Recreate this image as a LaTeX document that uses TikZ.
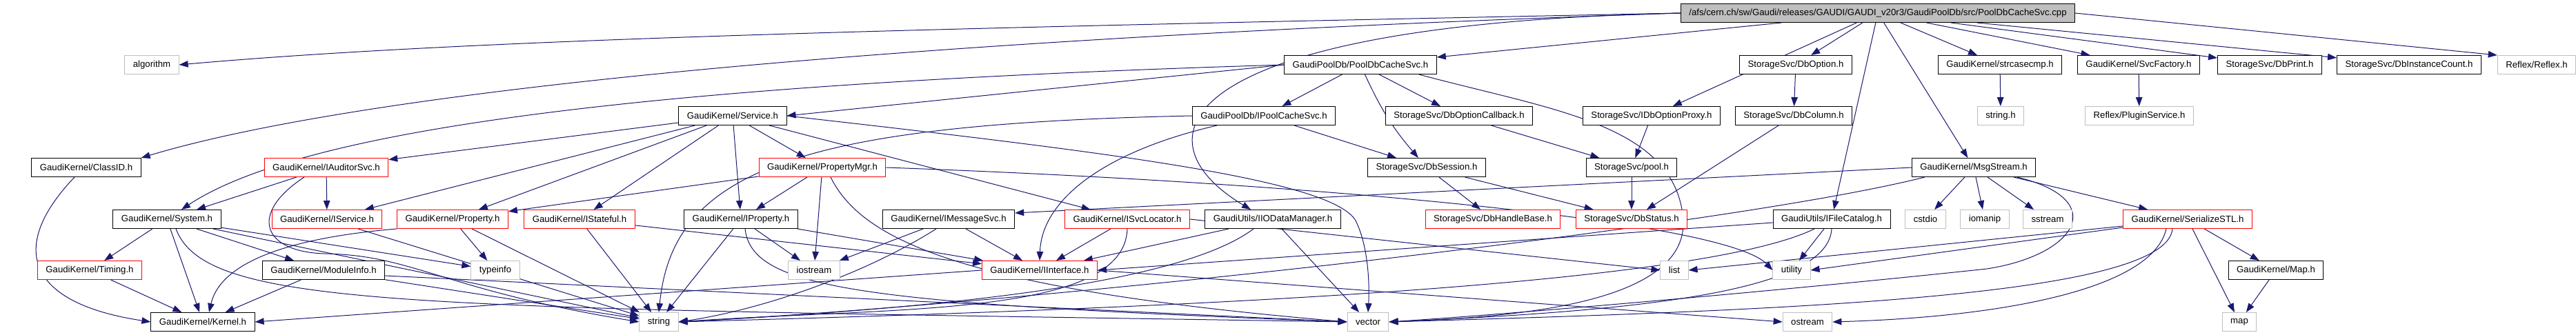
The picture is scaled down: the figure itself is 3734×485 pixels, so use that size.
\documentclass[tikz,border=0pt]{standalone}
\usepackage{fontspec}
\setmainfont{Liberation Sans}
\usepackage{tikz}
\usetikzlibrary{arrows.meta}
\definecolor{enlace}{HTML}{191970}
\definecolor{gris}{HTML}{BFBFBF}
\pgfdeclarelayer{fondo}
\pgfsetlayers{fondo,main}
\tikzset{
  hdr/.style={draw=black,fill=white,line width=1pt,minimum height=27pt,inner xsep=12pt,inner ysep=0pt,font=\fontsize{13.2}{16}\selectfont},
  hdrtrunc/.style={hdr,draw=red},
  hdrstd/.style={hdr,draw=gris},
  hdrroot/.style={hdr,fill=gris},
  incl/.style={draw=enlace,line width=1pt,-{Triangle[length=13pt,width=9.5pt]}},
}

\begin{document}
\begin{tikzpicture}[x=1pt,y=1pt]
\useasboundingbox (0,0) rectangle (3734,-485);
\node[hdrroot] (cpp) at (2722,-19) {/afs/cern.ch/sw/Gaudi/releases/GAUDI/GAUDI\_v20r3/GaudiPoolDb/src/PoolDbCacheSvc.cpp};
\node[hdrstd] (alg) at (220,-94) {algorithm};
\node[hdr] (poolsvch) at (1972,-94) {GaudiPoolDb/PoolDbCacheSvc.h};
\node[hdr] (dboption) at (2603,-94) {StorageSvc/DbOption.h};
\node[hdr] (strcase) at (2899,-94) {GaudiKernel/strcasecmp.h};
\node[hdr] (svcfac) at (3100,-94) {GaudiKernel/SvcFactory.h};
\node[hdr] (dbprint) at (3290,-94) {StorageSvc/DbPrint.h};
\node[hdr] (dbinst) at (3492,-94) {StorageSvc/DbInstanceCount.h};
\node[hdrstd] (reflex) at (3677,-94) {Reflex/Reflex.h};
\node[hdr] (service) at (1062,-168) {GaudiKernel/Service.h};
\node[hdr] (ipoolcache) at (1832,-168) {GaudiPoolDb/IPoolCacheSvc.h};
\node[hdr] (dboptcb) at (2115,-168) {StorageSvc/DbOptionCallback.h};
\node[hdr] (idboptproxy) at (2394,-168) {StorageSvc/IDbOptionProxy.h};
\node[hdr] (dbcolumn) at (2600,-168) {StorageSvc/DbColumn.h};
\node[hdrstd] (stringh) at (2900,-168) {string.h};
\node[hdrstd] (pluginsvc) at (3101,-168) {Reflex/PluginService.h};
\node[hdr] (classid) at (125,-243) {GaudiKernel/ClassID.h};
\node[hdrtrunc] (iauditor) at (473,-243) {GaudiKernel/IAuditorSvc.h};
\node[hdrtrunc] (propmgr) at (1192,-243) {GaudiKernel/PropertyMgr.h};
\node[hdr] (dbsession) at (2068,-243) {StorageSvc/DbSession.h};
\node[hdr] (pool) at (2365,-243) {StorageSvc/pool.h};
\node[hdr] (msgstream) at (2861,-243) {GaudiKernel/MsgStream.h};
\node[hdr] (system) at (242,-318) {GaudiKernel/System.h};
\node[hdrtrunc] (iservice) at (474,-318) {GaudiKernel/IService.h};
\node[hdrtrunc] (property) at (656,-318) {GaudiKernel/Property.h};
\node[hdrtrunc] (istateful) at (840,-318) {GaudiKernel/IStateful.h};
\node[hdr] (iproperty) at (1074,-318) {GaudiKernel/IProperty.h};
\node[hdr] (imsgsvc) at (1375,-318) {GaudiKernel/IMessageSvc.h};
\node[hdrtrunc] (isvcloc) at (1634,-318) {GaudiKernel/ISvcLocator.h};
\node[hdr] (iiodata) at (1845,-318) {GaudiUtils/IIODataManager.h};
\node[hdrtrunc] (dbhandle) at (2164,-318) {StorageSvc/DbHandleBase.h};
\node[hdrtrunc] (dbstatus) at (2365,-318) {StorageSvc/DbStatus.h};
\node[hdr] (ifilecat) at (2655,-318) {GaudiUtils/IFileCatalog.h};
\node[hdrstd] (cstdio) at (2791,-318) {cstdio};
\node[hdrstd] (iomanip) at (2877,-318) {iomanip};
\node[hdrstd] (sstream) at (2968,-318) {sstream};
\node[hdrtrunc] (serialstl) at (3171,-318) {GaudiKernel/SerializeSTL.h};
\node[hdrtrunc] (timing) at (130,-392) {GaudiKernel/Timing.h};
\node[hdr] (moduleinfo) at (469,-392) {GaudiKernel/ModuleInfo.h};
\node[hdrstd] (typeinfo) at (718,-392) {typeinfo};
\node[hdrstd] (iostream) at (1180,-392) {iostream};
\node[hdrtrunc] (iinterface) at (1507,-392) {GaudiKernel/IInterface.h};
\node[hdrstd] (lst) at (2427,-392) {list};
\node[hdrstd] (util) at (2597,-392) {utility};
\node[hdr] (maph) at (3299,-392) {GaudiKernel/Map.h};
\node[hdr] (kernel) at (294,-467) {GaudiKernel/Kernel.h};
\node[hdrstd] (str) at (955,-467) {string};
\node[hdrstd] (vec) at (1983,-467) {vector};
\node[hdrstd] (ostr) at (2620,-467) {ostream};
\node[hdrstd] (mapstl) at (3246,-467) {map};
\begin{pgfonlayer}{fondo}
\draw[incl] (cpp.west) .. controls (1400,-40) and (700,-55) .. (alg.east);
\draw[incl] (cpp.west) .. controls (1200,-60) and (500,-140) .. (classid.north east);
\draw[incl] (cpp.west) .. controls (1700,-35) and (1640,-200) .. ([xshift=-32pt]iiodata.north);
\draw[incl] (cpp) -- (poolsvch);
\draw[incl] (cpp) -- (idboptproxy);
\draw[incl] (cpp) -- (dboption);
\draw[incl] (cpp) -- (ifilecat);
\draw[incl] (cpp) -- (msgstream);
\draw[incl] (cpp) -- (strcase);
\draw[incl] (cpp) -- (svcfac);
\draw[incl] (cpp) -- (dbprint);
\draw[incl] (cpp) -- (dbinst);
\draw[incl] (cpp.east) -- (reflex.north west);
\draw[incl] (poolsvch.west) .. controls (1000,-120) and (450,-180) .. ([xshift=21pt]system.north);
\draw[incl] (poolsvch.west) -- (service.east);
\draw[incl] (poolsvch) -- (ipoolcache);
\draw[incl] (poolsvch) -- (dboptcb);
\draw[incl] (poolsvch) to[bend right=8] (dbsession);
\draw[incl] ([xshift=-26pt]poolsvch.south east) .. controls (2250,-160) and (2430,-180) .. (2440,-320) .. controls (2445,-440) and (2200,-460) .. (vec.east);
\draw[incl] ([xshift=-68pt]ipoolcache.south) .. controls (1600,-220) and (1510,-290) .. (iinterface.north);
\draw[incl] (ipoolcache) -- (dbsession);
\draw[incl] (ipoolcache.west) .. controls (1150,-180) and (975,-250) .. (str.north);
\draw[incl] (dboptcb) -- (pool);
\draw[incl] (idboptproxy) -- (pool);
\draw[incl] (pool) -- (dbstatus);
\draw[incl] (dbsession) -- (dbhandle);
\draw[incl] (dbsession) -- (dbstatus);
\draw[incl] (dboption) -- (dbcolumn);
\draw[incl] (dbcolumn) -- (dbstatus);
\draw[incl] (strcase) -- (stringh);
\draw[incl] (svcfac) -- (pluginsvc);
\draw[incl] (service) -- (iauditor);
\draw[incl] (service) -- (iservice);
\draw[incl] (service) -- (property);
\draw[incl] (service) -- (istateful);
\draw[incl] (service) -- (iproperty);
\draw[incl] (service) -- (propmgr);
\draw[incl] (service) -- (isvcloc);
\draw[incl] (service.east) .. controls (1600,-220) and (1930,-260) .. (1965,-320) .. controls (1985,-360) and (1985,-420) .. (vec.north);
\draw[incl] (iauditor) -- (system);
\draw[incl] (iauditor) -- (iservice);
\draw[incl] ([xshift=-32pt]iauditor.south) .. controls (360,-310) and (380,-365) .. (470,-368) .. controls (600,-370) and (640,-420) .. (str.west);
\draw[incl] (propmgr) -- (property);
\draw[incl] (propmgr) -- (iproperty);
\draw[incl] (propmgr) -- (iostream);
\draw[incl] ([xshift=12pt]propmgr.south) .. controls (1250,-350) and (1400,-420) .. (vec.west);
\draw[incl] (propmgr.east) .. controls (1900,-265) and (2500,-320) .. (util.west);
\draw[incl] (property.south west) .. controls (420,-345) and (320,-380) .. ([xshift=9pt]kernel.north);
\draw[incl] (property) -- (typeinfo);
\draw[incl] (property) -- (str);
\draw[incl] (istateful) -- (str);
\draw[incl] (istateful) -- (iinterface);
\draw[incl] (iproperty) -- (str);
\draw[incl] (iproperty) -- (iostream);
\draw[incl] (iproperty) -- (iinterface);
\draw[incl] ([xshift=6pt]iproperty.south) .. controls (1090,-420) and (1250,-440) .. (vec.west);
\draw[incl] (system) -- (timing);
\draw[incl] (system) -- (kernel);
\draw[incl] (system) -- (moduleinfo);
\draw[incl] (system) -- (typeinfo);
\draw[incl] (system) -- (str);
\draw[incl] ([xshift=13pt]system.south) .. controls (300,-450) and (600,-445) .. (vec.west);
\draw[incl] (moduleinfo) -- (kernel);
\draw[incl] (moduleinfo) -- (str);
\draw[incl] ([yshift=-8pt]moduleinfo.east) -- (vec.west);
\draw[incl] (timing) -- (kernel);
\draw[incl] ([xshift=-17pt]classid.south) .. controls (10,-360) and (40,-440) .. (kernel.west);
\draw[incl] (iservice) -- (str);
\draw[incl] (imsgsvc) -- (iinterface);
\draw[incl] (imsgsvc) -- (iostream);
\draw[incl] ([xshift=-18pt]imsgsvc.south) .. controls (1250,-400) and (1100,-450) .. (str.east);
\draw[incl] (isvcloc) -- (iinterface);
\draw[incl] (isvcloc.south) .. controls (1630,-460) and (1300,-445) .. (str.east);
\draw[incl] (isvcloc.east) -- (lst.west);
\draw[incl] (iiodata) -- (iinterface);
\draw[incl] ([xshift=-28pt]iiodata.south) .. controls (1700,-420) and (1300,-450) .. (str.east);
\draw[incl] (iiodata) -- (vec);
\draw[incl] (msgstream.west) -- ([yshift=9pt]imsgsvc.east);
\draw[incl] (msgstream) -- (cstdio);
\draw[incl] (msgstream) -- (iomanip);
\draw[incl] (msgstream) -- (sstream);
\draw[incl] (msgstream) -- (serialstl);
\draw[incl] ([xshift=-71pt]msgstream.south) .. controls (2500,-330) and (1500,-440) .. (str.east);
\draw[incl] ([xshift=63pt]msgstream.south) .. controls (3060,-290) and (3010,-370) .. (2880,-390) .. controls (2600,-420) and (2200,-455) .. (vec.east);
\draw[incl] ([yshift=-5pt]ifilecat.west) -- (iinterface.east);
\draw[incl] (ifilecat) -- (util);
\draw[incl] ([xshift=-25pt]ifilecat.south) .. controls (2450,-420) and (1600,-450) .. (str.east);
\draw[incl] (ifilecat.south) .. controls (2650,-420) and (2400,-450) .. (vec.east);
\draw[incl] ([yshift=-10pt]serialstl.west) -- (lst.east);
\draw[incl] ([yshift=-12pt]serialstl.west) -- (util.east);
\draw[incl] ([xshift=-31pt]serialstl.south) .. controls (3120,-420) and (2900,-460) .. (ostr.east);
\draw[incl] ([xshift=-22pt]serialstl.south) .. controls (3140,-430) and (2600,-450) .. (vec.east);
\draw[incl] (serialstl) -- (maph);
\draw[incl] (serialstl) -- (mapstl);
\draw[incl] (maph) -- (mapstl);
\draw[incl] (iinterface.west) -- (kernel.east);
\draw[incl] (iinterface.east) -- (ostr.west);
\end{pgfonlayer}
\end{tikzpicture}
\end{document}
